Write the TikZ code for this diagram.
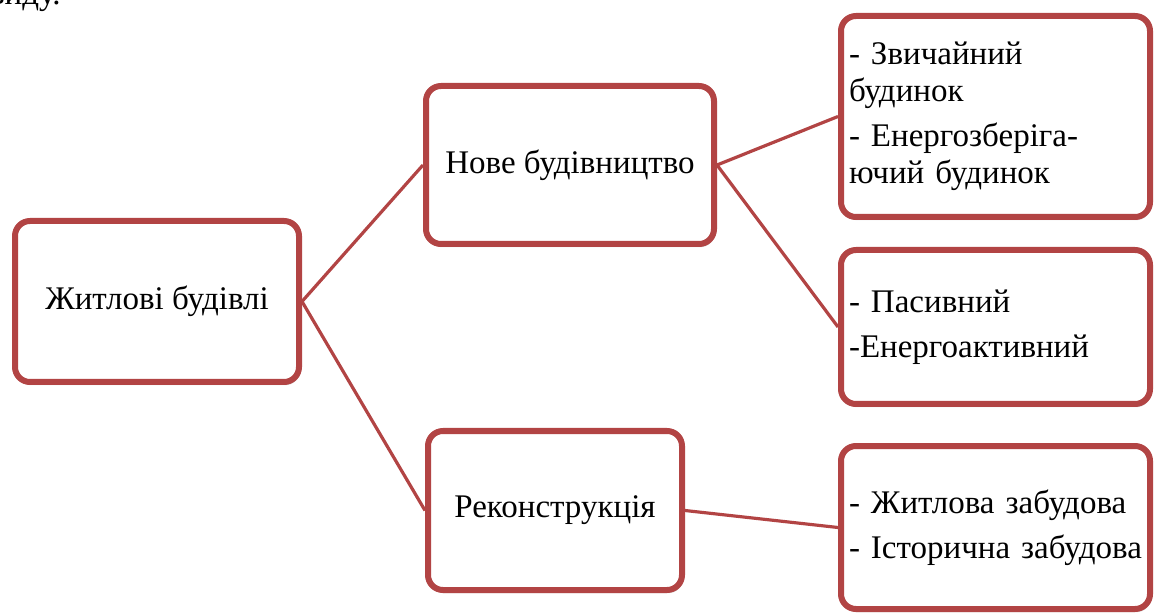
\documentclass[tikz,border=0pt]{standalone}
\usepackage{fontspec}
\setmainfont{Liberation Serif}
\usetikzlibrary{positioning,shadows}
\definecolor{frame_color}{RGB}{178,68,68}
\definecolor{shade_color}{RGB}{120,120,120}
\tikzset{
  mainbox/.style={
    draw=frame_color, line width=3pt, fill=white, rounded corners=7.5pt,
    align=center, font=\fontsize{16.5}{18.5}\selectfont,
    drop shadow={shadow xshift=0.6pt, shadow yshift=-1.6pt, opacity=0.3, fill=shade_color}
  },
  itembox/.style={
    mainbox, align=left, inner xsep=4pt, text width=146.5pt
  },
  link/.style={draw=frame_color, line width=1.6pt}
}

\begin{document}
\begin{tikzpicture}[x=0.5pt, y=-0.5pt]
\useasboundingbox (0,0) rectangle (1156,614);

\node[anchor=base east, font=\fontsize{16.5}{18.5}\selectfont, inner sep=0pt] (cuttext) at (61,5) {виду.};

\node[mainbox, minimum width=142pt, minimum height=80.5pt] (housing) at (157,301.5) {Житлові будівлі};
\node[mainbox, minimum width=144pt, minimum height=79pt] (newbuild) at (570,165) {Нове будівництво};
\node[mainbox, minimum width=127pt, minimum height=79.5pt] (reconstr) at (555,510.5) {Реконструкція};

\node[itembox, minimum height=100.5pt] (ordinary) at (995.5,116.5) {- Звичайний\\будинок\\[4pt]- Енергозберіга-\\ючий будинок};
\node[itembox, minimum height=77pt] (passive) at (995.5,327) {- Пасивний\\[4pt]-Енергоактивний};
\node[itembox, minimum height=81.5pt] (districts) at (995.5,527.5) {- Житлова забудова\\[4pt]- Історична забудова};

\draw[link] (housing.east) -- (newbuild.west);
\draw[link] (housing.east) -- (reconstr.west);
\draw[link] (newbuild.east) -- (ordinary.west);
\draw[link] (newbuild.east) -- (passive.west);
\draw[link] (reconstr.east) -- (districts.west);

\end{tikzpicture}
\end{document}
